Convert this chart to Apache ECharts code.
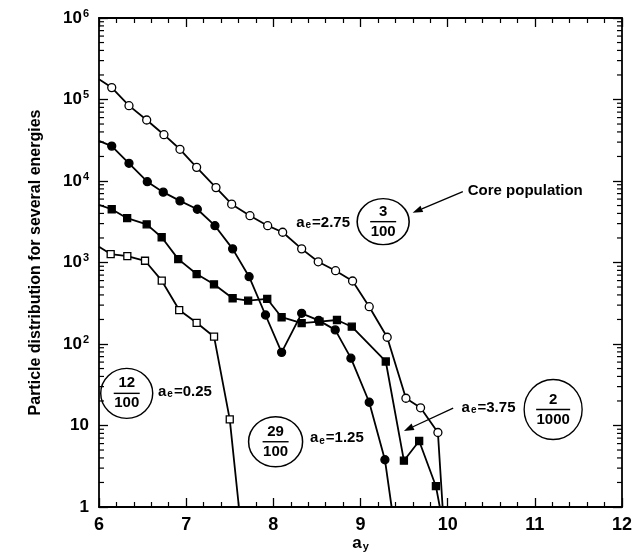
<!DOCTYPE html>
<html>
<head>
<meta charset="utf-8">
<script src="https://cdn.jsdelivr.net/npm/echarts@6/dist/echarts.min.js"></script>
<style>
  html, body { margin: 0; padding: 0; background: #fff; }
  #chart { width: 633px; height: 560px; }
</style>
</head>
<body>
<div id="chart"></div>
<script>
// Axis ranges and tick values
const xRange = [6, 12];
const yRange = [1, 1e6];
const minorMultipliers = [2, 3, 4, 5, 6, 7, 8, 9];
const yDecades = [1, 10, 100, 1000, 10000, 100000];

// a_e = 2.75 (open circles)
const xOpenCircle = [6.0, 6.146, 6.344, 6.547, 6.745, 6.929, 7.12, 7.342, 7.522, 7.732, 7.935, 8.107, 8.325, 8.515, 8.714, 8.909, 9.10, 9.306, 9.521, 9.689, 9.888, 9.942];
const yOpenCircle = [177000, 140000, 84000, 56000, 37000, 24500, 14700, 8300, 5200, 3750, 2830, 2350, 1470, 1020, 793, 593, 287, 121, 21.6, 16.5, 8.2, 1];

// a_e = 1.25 (filled circles)
const xFilledCircle = [6.0, 6.146, 6.344, 6.554, 6.737, 6.929, 7.128, 7.33, 7.533, 7.722, 7.91, 8.095, 8.325, 8.52, 8.71, 8.89, 9.10, 9.28, 9.357];
const yFilledCircle = [31000, 26800, 16500, 9800, 7300, 5700, 4500, 2830, 1470, 670, 227, 79, 238, 195, 149, 67, 19.3, 3.8, 1];

// a_e = 3.75 (filled squares)
const xFilledSquare = [6.0, 6.146, 6.323, 6.547, 6.719, 6.909, 7.12, 7.319, 7.533, 7.711, 7.93, 8.095, 8.325, 8.53, 8.73, 8.90, 9.29, 9.498, 9.673, 9.865, 9.91];
const yFilledSquare = [5100, 4500, 3500, 2940, 2040, 1100, 722, 540, 364, 340, 357, 213, 180, 188, 197, 163, 61, 3.7, 6.45, 1.8, 1];

// a_e = 0.25 (open squares)
const xOpenSquare = [6.0, 6.134, 6.325, 6.528, 6.72, 6.92, 7.12, 7.32, 7.50, 7.605];
const yOpenSquare = [1560, 1270, 1200, 1050, 598, 261, 182, 123, 11.9, 1];

const FONT = '"Liberation Sans", Arial, Helvetica, sans-serif';

// Points on the plot edges (curve start at x=6, drop to the floor) carry no marker
function toItems(xs, ys) {
  return xs.map((x, i) => {
    const item = { value: [x, ys[i]] };
    if (x === xRange[0] || ys[i] === yRange[0]) item.symbol = 'none';
    return item;
  });
}

function lineSeries(name, xs, ys, symbol, size, filled) {
  return {
    name: name,
    type: 'line',
    data: toItems(xs, ys),
    symbol: symbol,
    symbolSize: size,
    showAllSymbol: true,
    lineStyle: { color: '#000', width: 1.8 },
    itemStyle: { color: filled ? '#000' : '#fff', borderColor: '#000', borderWidth: 1.3 },
    emphasis: { disabled: true },
    animation: false,
    z: 3
  };
}

const minorTickData = [];
yDecades.forEach(d => minorMultipliers.forEach(m => minorTickData.push([xRange[0], d * m])));

const axisLineStyle = { show: true, lineStyle: { color: '#000', width: 1.8 } };

function xAxisDef(position, showLabels) {
  return {
    type: 'value', position: position, min: xRange[0], max: xRange[1], interval: 1,
    axisLine: axisLineStyle,
    axisTick: { show: true, inside: true, length: 9, lineStyle: { color: '#000', width: 1.3 } },
    minorTick: { show: true, splitNumber: 5, length: 5, lineStyle: { color: '#000', width: 1.2 } },
    splitLine: { show: false },
    axisLabel: {
      show: showLabels, margin: 9, color: '#000', fontSize: 18, fontWeight: 'bold', fontFamily: FONT
    }
  };
}

function yAxisDef(position, showLabels) {
  return {
    type: 'log', logBase: 10, position: position, min: yRange[0], max: yRange[1], splitNumber: 6,
    axisLine: axisLineStyle,
    axisTick: { show: true, inside: true, length: 9, lineStyle: { color: '#000', width: 1.3 } },
    minorTick: { show: false },
    splitLine: { show: false },
    axisLabel: {
      show: showLabels, margin: 10, color: '#000', fontSize: 17, fontWeight: 'bold', fontFamily: FONT,
      lineHeight: 20,
      formatter: function (v) {
        const e = Math.round(Math.log10(v));
        if (e === 0) return '1';
        if (e === 1) return '10';
        return '10{sup|' + e + '}';
      },
      rich: {
        sup: { fontSize: 11, fontWeight: 'bold', fontFamily: FONT, color: '#000', verticalAlign: 'top', lineHeight: 11, padding: [0, 0, 0, 1] }
      }
    }
  };
}

const chart = echarts.init(document.getElementById('chart'), null, { renderer: 'canvas' });

const xMain = xAxisDef('bottom', true);
xMain.name = 'a{sub|y}';
xMain.nameLocation = 'middle';
xMain.nameGap = 28;
xMain.nameMoveOverlap = false;
xMain.nameTextStyle = {
  color: '#000', fontSize: 17, fontWeight: 'bold', fontFamily: FONT,
  rich: { sub: { fontSize: 11, fontWeight: 'bold', fontFamily: FONT, color: '#000', verticalAlign: 'bottom', lineHeight: 11, padding: [15, 0, 0, 1] } }
};

const yMain = yAxisDef('left', true);
yMain.name = 'Particle distribution for several energies';
yMain.nameLocation = 'middle';
yMain.nameRotate = 90;
yMain.nameGap = 55;
yMain.nameMoveOverlap = false;
yMain.nameTextStyle = { color: '#000', fontSize: 16, fontWeight: 'bold', fontFamily: FONT };

chart.setOption({
  backgroundColor: '#fff',
  animation: false,
  grid: { left: 99, right: 11, top: 18, bottom: 53, containLabel: false, outerBoundsMode: 'none' },
  xAxis: [xMain, xAxisDef('top', false)],
  yAxis: [yMain, yAxisDef('right', false)],
  series: [
    {
      name: 'minorTicksY',
      type: 'custom',
      data: minorTickData,
      encode: { x: 0, y: 1 },
      silent: true,
      clip: false,
      z: 1,
      renderItem: function (params, api) {
        const v = api.value(1);
        const l = api.coord([xRange[0], v]);
        const r = api.coord([xRange[1], v]);
        const st = { stroke: '#000', lineWidth: 1.2 };
        return {
          type: 'group',
          children: [
            { type: 'line', shape: { x1: l[0], y1: l[1], x2: l[0] + 5, y2: l[1] }, style: st },
            { type: 'line', shape: { x1: r[0] - 5, y1: r[1], x2: r[0], y2: r[1] }, style: st }
          ]
        };
      }
    },
    lineSeries('a_e=0.25', xOpenSquare, yOpenSquare, 'rect', 7, false),
    lineSeries('a_e=3.75', xFilledSquare, yFilledSquare, 'rect', 7, true),
    lineSeries('a_e=1.25', xFilledCircle, yFilledCircle, 'circle', 8, true),
    lineSeries('a_e=2.75', xOpenCircle, yOpenCircle, 'circle', 8, false)
  ]
});

// Annotation anchors, in data coordinates [a_y, distribution]
const notes = {
  badge3: [9.26, 3170],
  label275: [8.88, 3055],
  coreText: [10.23, 7600],
  coreArrowFrom: [10.174, 7400],
  coreArrowTo: [9.598, 4080],
  badge12: [6.318, 24.8],
  label025: [6.677, 26],
  badge29: [8.026, 6.32],
  label125: [8.42, 6.97],
  badge2: [11.21, 15.7],
  label375: [10.16, 16.3],
  arrow375From: [10.063, 16.3],
  arrow375To: [9.498, 8.57]
};

function P(pt) { return chart.convertToPixel({ gridIndex: 0 }, pt); }

const STROKE = '#000';
const textFont = { fontSize: 15, fontWeight: 'bold', fontFamily: FONT, fill: '#000' };

function badge(anchor, rx, ry, num, den, gap, barW) {
  const c = P(anchor);
  return [
    {
      type: 'circle', x: c[0], y: c[1], scaleX: rx / ry,
      shape: { cx: 0, cy: 0, r: ry },
      style: { fill: null, stroke: STROKE, lineWidth: 1.4 }
    },
    { type: 'text', x: c[0], y: c[1] - gap, style: Object.assign({ text: num, align: 'center', verticalAlign: 'middle' }, textFont) },
    { type: 'line', shape: { x1: c[0] - barW / 2, y1: c[1], x2: c[0] + barW / 2, y2: c[1] }, style: { stroke: STROKE, lineWidth: 1.4 } },
    { type: 'text', x: c[0], y: c[1] + gap, style: Object.assign({ text: den, align: 'center', verticalAlign: 'middle' }, textFont) }
  ];
}

function aeLabel(anchor, value, align) {
  const p = P(anchor);
  return {
    type: 'text', x: p[0], y: p[1],
    style: Object.assign({
      text: 'a{e|e}=' + value, align: align, verticalAlign: 'middle',
      rich: { e: { fontSize: 10, fontWeight: 'bold', fontFamily: FONT, fill: '#000', verticalAlign: 'bottom', lineHeight: 10, padding: [20, 1, 0, 1] } }
    }, textFont)
  };
}

function arrow(fromPt, toPt) {
  const a = P(fromPt), b = P(toPt);
  const ang = Math.atan2(b[1] - a[1], b[0] - a[0]);
  const len = 10, half = 3.5;
  const bx = b[0] - len * Math.cos(ang), by = b[1] - len * Math.sin(ang);
  const nx = -Math.sin(ang) * half, ny = Math.cos(ang) * half;
  return [
    { type: 'line', shape: { x1: a[0], y1: a[1], x2: bx, y2: by }, style: { stroke: STROKE, lineWidth: 1.3 } },
    { type: 'polygon', shape: { points: [[b[0], b[1]], [bx + nx, by + ny], [bx - nx, by - ny]] }, style: { fill: STROKE } }
  ];
}

const coreP = P(notes.coreText);
const elements = [].concat(
  badge(notes.badge3, 26, 23, '3', '100', 10, 26),
  [aeLabel(notes.label275, '2.75', 'right')],
  [{ type: 'text', x: coreP[0], y: coreP[1], style: Object.assign({ text: 'Core population', align: 'left', verticalAlign: 'middle' }, textFont, { fontSize: 15 }) }],
  arrow(notes.coreArrowFrom, notes.coreArrowTo),
  badge(notes.badge12, 26, 25, '12', '100', 10, 26),
  [aeLabel(notes.label025, '0.25', 'left')],
  badge(notes.badge29, 27, 25, '29', '100', 10, 26),
  [aeLabel(notes.label125, '1.25', 'left')],
  badge(notes.badge2, 29, 30, '2', '1000', 10, 34),
  [aeLabel(notes.label375, '3.75', 'left')],
  arrow(notes.arrow375From, notes.arrow375To)
);

chart.setOption({ graphic: { elements: elements } });
</script>
</body>
</html>
